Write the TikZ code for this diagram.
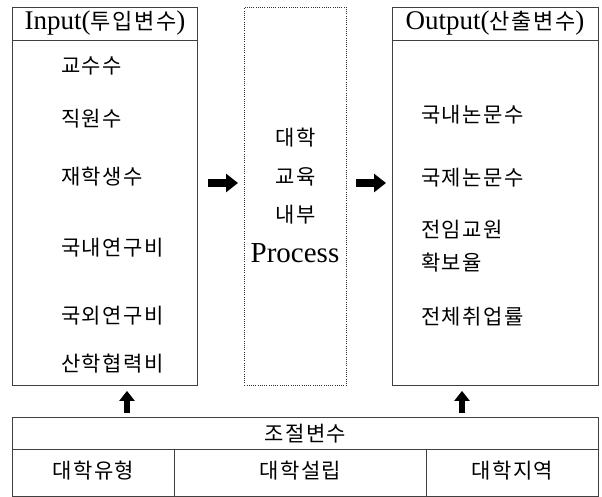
\documentclass[tikz,border=0pt]{standalone}
\usepackage{fontspec}
\setmainfont{Liberation Serif}
\newfontfamily\kr[LetterSpace=7]{Noto Sans CJK KR}
\usetikzlibrary{arrows.meta,calc}
\tikzset{
 frame/.style={draw=black!75, line width=0.9pt, inner sep=0pt},
 dotframe/.style={draw=black!80, line width=0.9pt, dash pattern=on 1pt off 1.2pt, inner sep=0pt},
 txt/.style={inner sep=0pt, font=\fontsize{27}{30}\selectfont},
 kt/.style={inner sep=0pt, font=\kr\fontsize{21}{24}\selectfont},
 fat/.style={line width=8pt, -{Triangle[width=18pt,length=12pt]}},
 upfat/.style={line width=6pt, -{Triangle[width=15pt,length=10pt]}}
}
\begin{document}
\begin{tikzpicture}[x=1pt,y=-1pt]
\useasboundingbox (0,0) rectangle (602,496);
% boxes
\node[frame, anchor=north west, minimum width=185pt, minimum height=378pt] (inbox) at (12,7) {};
\node[dotframe, anchor=north west, minimum width=102pt, minimum height=378pt] (proc) at (244,7) {};
\node[frame, anchor=north west, minimum width=206pt, minimum height=378pt] (outbox) at (392,7) {};
\draw[frame] (inbox.west |- 0,40) -- (inbox.east |- 0,40);
\draw[frame] (outbox.west |- 0,40) -- (outbox.east |- 0,40);
% headers
\node[txt] (inhead) at (105,23.5) {Input({\kr\fontsize{22}{24}\selectfont 투입변수})};
\node[txt] (outhead) at (495,23.5) {Output({\kr\fontsize{22}{24}\selectfont 산출변수})};
% input items
\node[kt, anchor=west] (i1) at (61,66) {교수수};
\node[kt, anchor=west] (i2) at (61,119) {직원수};
\node[kt, anchor=west] (i3) at (61,177) {재학생수};
\node[kt, anchor=west] (i4) at (61,248) {국내연구비};
\node[kt, anchor=west] (i5) at (61,316) {국외연구비};
\node[kt, anchor=west] (i6) at (61,364) {산학협력비};
% process
\node[kt] (p1) at (296,138) {대학};
\node[kt] (p2) at (296,177) {교육};
\node[kt] (p3) at (296,215) {내부};
\node[txt, font=\fontsize{29}{32}\selectfont] (p4) at (295,253) {Process};
% output items
\node[kt, anchor=west] (o1) at (421,115) {국내논문수};
\node[kt, anchor=west] (o2) at (421,178) {국제논문수};
\node[kt, anchor=west] (o3) at (421,230) {전임교원};
\node[kt, anchor=west] (o4) at (421,263) {확보율};
\node[kt, anchor=west] (o5) at (421,317) {전체취업률};
% bottom control table
\node[frame, anchor=north west, minimum width=586pt, minimum height=32pt] (ctrl) at (12,417) {};
\node[frame, anchor=north west, minimum width=162pt, minimum height=47pt] (c1) at (12,449) {};
\node[frame, anchor=north west, minimum width=252pt, minimum height=47pt] (c2) at (174,449) {};
\node[frame, anchor=north west, minimum width=172pt, minimum height=47pt] (c3) at (426,449) {};
\node[kt] (ctxt) at (ctrl.center) {조절변수};
\node[kt] (c1t) at ($(c1.center)+(0,-2)$) {대학유형};
\node[kt] (c2t) at ($(c2.center)+(0,-2)$) {대학설립};
\node[kt] (c3t) at ($(c3.center)+(0,-2)$) {대학지역};
% arrows
\coordinate (h) at (0,183);
\draw[fat, shorten <=10pt, shorten >=6pt] (inbox.east |- h) -- (proc.west |- h);
\draw[fat, shorten <=9pt, shorten >=6pt] (proc.east |- h) -- (outbox.west |- h);
\draw[upfat, shorten <=4pt, shorten >=5pt] (ctrl.north -| 127,0) -- (inbox.south -| 127,0);
\draw[upfat, shorten <=4pt, shorten >=5pt] (ctrl.north -| 462,0) -- (outbox.south -| 462,0);
\end{tikzpicture}
\end{document}
